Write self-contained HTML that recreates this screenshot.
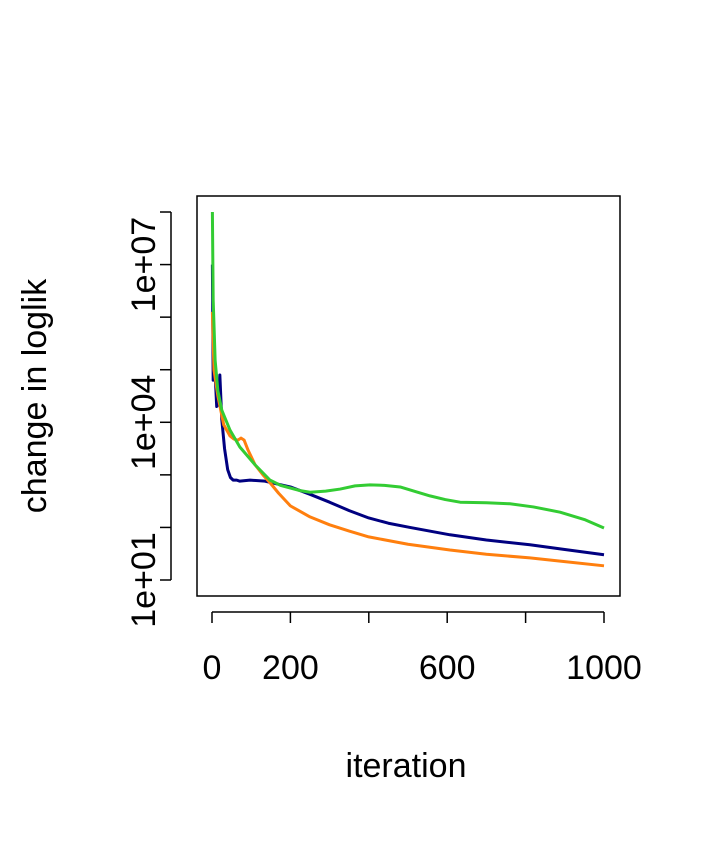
<!DOCTYPE html>
<html><head><meta charset="utf-8"><style>
body{margin:0;background:#fff}
svg text{font-family:"Liberation Sans",Arial,sans-serif;fill:#000}
</style></head><body>
<svg id="chart" width="720" height="840" xmlns="http://www.w3.org/2000/svg">
<rect x="197" y="196" width="423" height="400" fill="none" stroke="#000" stroke-width="1.5"/>
<g id="axes"></g>
<g id="series"></g>
<text x="406" y="777" font-size="34" text-anchor="middle">iteration</text>
<text transform="translate(46,396) rotate(-90)" font-size="34" text-anchor="middle">change in loglik</text>
</svg>
<script>
const xTicks=[0,200,400,600,800,1000];
const xTickLabels=["0","200","","600","","1000"];
const yTicks=[1,2,3,4,5,6,7,8];
const yTickLabels={1:"1e+01",4:"1e+04",7:"1e+07"};
const blueIter=[1,3,8,12,16,20,25,32,40,47,54,63,71,97,135,170,200,250,300,350,400,450,505,607,700,811,900,1000];
const blueLog=[7.0,4.8,4.9,4.3,4.35,4.9,4.05,3.5,3.1,2.95,2.9,2.9,2.88,2.9,2.88,2.82,2.77,2.63,2.48,2.32,2.18,2.08,2.0,1.86,1.76,1.67,1.58,1.48];
const orangeIter=[1,5,15,30,46,56,66,74,82,92,110,130,148,170,200,250,300,350,400,500,607,700,811,900,1000];
const orangeLog=[6.1,5.0,4.5,3.95,3.74,3.68,3.66,3.7,3.66,3.47,3.19,3.0,2.85,2.65,2.41,2.2,2.05,1.93,1.82,1.68,1.57,1.49,1.42,1.35,1.27];
const greenIter=[1,3,8,15,25,46,71,110,148,175,200,225,250,290,327,365,403,440,480,520,556,595,633,700,760,820,888,950,1000];
const greenLog=[8.0,6.33,5.18,4.6,4.23,3.85,3.53,3.19,2.9,2.8,2.75,2.7,2.67,2.69,2.73,2.79,2.81,2.8,2.77,2.68,2.6,2.53,2.48,2.47,2.45,2.39,2.29,2.15,1.99];
const X=v=>212+v*0.392;
const Y=l=>580-(l-1)*52.57;
const NS="http://www.w3.org/2000/svg";
const axes=document.getElementById('axes');
function mk(tag,attrs,parent){const e=document.createElementNS(NS,tag);for(const k in attrs)e.setAttribute(k,attrs[k]);parent.appendChild(e);return e;}
let l=mk('line',{x1:X(0),x2:X(1000),y1:612,y2:612,stroke:'#000','stroke-width':1.5},axes);


xTicks.forEach((v,i)=>{
 const t=mk('line',{x1:X(v),x2:X(v),y1:612,y2:623,stroke:'#000','stroke-width':1.5},axes);
 
 
 if(xTickLabels[i]){const tx=mk('text',{x:X(v),y:679,'font-size':34,'text-anchor':'middle'},axes);tx.textContent=xTickLabels[i];
 
 }
});
l=mk('line',{x1:171,x2:171,y1:Y(1),y2:Y(8),stroke:'#000','stroke-width':1.5},axes);


yTicks.forEach(v=>{
 const t=mk('line',{x1:160,x2:171,y1:Y(v),y2:Y(v),stroke:'#000','stroke-width':1.5},axes);
 
 
 if(yTickLabels[v]){const tx=mk('text',{transform:`translate(155,${Y(v)}) rotate(-90)`,'font-size':34,'text-anchor':'middle'},axes);tx.textContent=yTickLabels[v];
 
 }
});
const ser=document.getElementById('series');
[[blueIter,blueLog,'#000080','series-blue'],[orangeIter,orangeLog,'#ff7f0e','series-orange'],[greenIter,greenLog,'#33cc33','series-green']].forEach(s=>{
 const p=mk('polyline',{points:s[0].map((v,i)=>X(v)+','+Y(s[1][i])).join(' '),fill:'none',stroke:s[2],'stroke-width':3,'stroke-linejoin':'round'},ser);
 
 
});
</script>
</body></html>
